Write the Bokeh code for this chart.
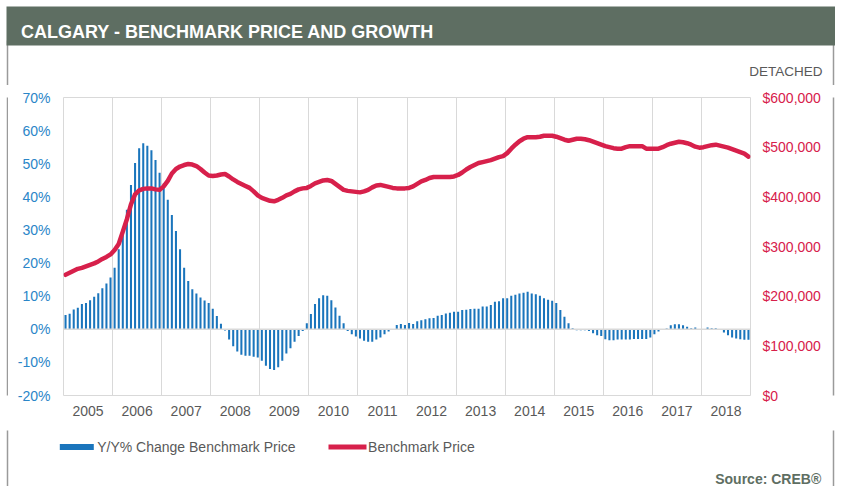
import numpy as np
from bokeh.plotting import figure
from bokeh.models import (Range1d, LinearAxis, FixedTicker, Span, PrintfTickFormatter,
                          NumeralTickFormatter, ColumnDataSource)
from bokeh.layouts import column, row
from bokeh.core.properties import value
from bokeh.embed import file_html
from bokeh.resources import INLINE

# ---------------- data ----------------
years = [str(y) for y in range(2005, 2019)]

# Y/Y % change of benchmark price, monthly Jan 2005 - Dec 2018
yoy_change = [
    4.3, 4.7, 6.0, 6.5, 7.6, 7.9, 8.8, 9.8, 10.9, 12.4, 13.8, 15.6,          # 2005
    18.6, 24.2, 29.2, 36.1, 43.6, 50.2, 54.7, 56.2, 55.4, 54.1, 51.1, 47.3,  # 2006
    44.0, 39.1, 34.5, 29.7, 24.2, 18.6, 14.6, 12.1, 10.8, 9.6, 8.7, 7.9,     # 2007
    6.2, 4.0, 1.7, -0.4, -3.1, -5.1, -6.7, -7.7, -8.0, -8.0, -8.3, -8.5,     # 2008
    -9.5, -11.0, -12.0, -12.3, -11.5, -9.5, -7.3, -5.7, -3.8, -2.0, -0.5, 1.8,  # 2009
    4.6, 7.6, 9.4, 10.3, 10.1, 8.8, 6.6, 4.1, 1.8, -0.5, -1.5, -2.2,        # 2010
    -2.8, -3.5, -3.8, -3.8, -3.1, -2.5, -1.5, -0.7, -0.2, 1.3, 1.6, 1.3,    # 2011
    1.9, 1.6, 2.4, 2.7, 3.0, 3.3, 3.4, 4.1, 4.3, 4.8, 5.0, 5.3,             # 2012
    5.3, 5.8, 5.9, 6.1, 6.2, 6.2, 6.9, 6.9, 7.3, 8.3, 8.5, 9.4,             # 2013
    9.4, 10.1, 10.4, 10.8, 11.0, 11.3, 10.8, 10.6, 10.1, 9.4, 8.9, 8.6,     # 2014
    7.9, 5.8, 3.8, 1.8, 0.3, -0.3, -0.3, -0.3, -0.5, -1.2, -1.8, -2.0,      # 2015
    -3.0, -3.3, -3.3, -3.1, -3.1, -3.1, -3.1, -2.9, -2.9, -2.9, -2.9, -2.5,  # 2016
    -1.5, -0.7, -0.2, 0.2, 1.2, 1.5, 1.5, 1.2, 0.8, 0.3, 0.5, -0.1,         # 2017
    -0.2, 0.5, 0.3, 0.3, -0.1, -1.0, -1.8, -2.5, -2.8, -3.0, -3.2, -3.2,    # 2018
]

# Benchmark price (thousands of $), monthly Jan 2005 - Dec 2018
benchmark_price_k = [
    243, 247, 251, 255, 257, 260, 263, 266, 270, 275, 279, 284,   # 2005
    293, 305, 330, 355, 385, 405, 413, 416, 417, 417, 415, 414,   # 2006
    421, 432, 447, 456, 461, 464, 466, 465, 462, 456, 449, 443,   # 2007
    442, 443, 445, 446, 441, 435, 430, 426, 422, 418, 411, 403,   # 2008
    398, 395, 392, 391, 394, 398, 403, 406, 411, 415, 417, 418,   # 2009
    422, 427, 430, 433, 434, 432, 426, 420, 414, 412, 411, 410,   # 2010
    409, 411, 414, 419, 423, 424, 422, 420, 418, 417, 417, 417,   # 2011
    418, 421, 426, 431, 434, 438, 440, 440, 440, 440, 440, 441,   # 2012
    444, 449, 455, 460, 464, 468, 470, 472, 474, 477, 480, 482,   # 2013
    488, 497, 505, 512, 517, 520, 520, 520, 521, 523, 523, 523,   # 2014
    521, 518, 515, 513, 515, 517, 517, 516, 514, 511, 508, 505,   # 2015
    502, 500, 498, 497, 497, 500, 502, 502, 502, 502, 497, 497,   # 2016
    497, 497, 500, 504, 507, 509, 511, 510, 508, 505, 501, 499,   # 2017
    500, 502, 504, 505, 503, 501, 499, 496, 493, 490, 487, 481,   # 2018
]

pct_ticks = list(range(-20, 80, 10))
price_ticks = list(range(0, 700000, 100000))

title_text = "CALGARY - BENCHMARK PRICE AND GROWTH"
subtitle_text = "DETACHED"
legend_labels = ["Y/Y% Change Benchmark Price", "Benchmark Price"]
source_text = "Source: CREB®"

# ---------------- styling ----------------
FONT = "Liberation Sans"
BLUE = "#1a75bc"
BLUE_TXT = "#2a86c8"
RED = "#d7204b"
GREY_TXT = "#595959"
GRID = "#d9d9d9"
HEADER = "#5e6e62"
BORDER = "#9a9a9a"

PAGE_W = 843
HDR_H = 85          # header strip: page y 0..85
MAIN_H = 345        # chart strip: page y 85..430
FTR_H = 486 - HDR_H - MAIN_H
LSTRIP_W = 8
RSTRIP_W = 12
MAIN_W = PAGE_W - LSTRIP_W - RSTRIP_W


def deco_fig(w, h, y0):
    """A blank figure whose frame covers the canvas; y grows downward (page pixels)."""
    f = figure(width=w, height=h, output_backend="svg", toolbar_location=None,
               x_axis_type=None, y_axis_type=None,
               x_range=Range1d(0, w), y_range=Range1d(y0 + h, y0),
               min_border=0)
    f.min_border_left = f.min_border_right = f.min_border_top = f.min_border_bottom = 0
    f.outline_line_color = None
    f.background_fill_color = "white"
    f.border_fill_color = "white"
    return f


def txt(f, x, y, s, size="14px", color=GREY_TXT, bold=False, align="left", baseline="middle"):
    f.text(x=[x], y=[y], text=[s], text_font=value(FONT), text_font_size=size,
           text_color=color, text_font_style="bold" if bold else "normal",
           text_align=align, text_baseline=baseline)


def vborder(f, xs, y0, y1):
    f.segment(x0=xs, y0=[y0 - 5] * len(xs), x1=xs, y1=[y1 + 5] * len(xs),
              line_color=BORDER, line_width=1.5)


# ---------------- header ----------------
hdr = deco_fig(PAGE_W, HDR_H, 0)
vborder(hdr, [7, 833], 45, HDR_H)
hdr.quad(left=[6], right=[834.5], top=[6], bottom=[45], fill_color=HEADER, line_color=None)
txt(hdr, 20.5, 31.5, title_text, size="18px", color="white", bold=True, baseline="alphabetic")
txt(hdr, 822, 71, subtitle_text, size="13.5px", align="right")

# ---------------- main chart ----------------
n = len(yoy_change)
month_x = np.arange(n) + 0.5
src = ColumnDataSource(dict(x=month_x, yoy=yoy_change,
                            price=np.array(benchmark_price_k) * 1000.0))

ML, MT = 55, 12
FW, FH = 687, 298
p = figure(width=MAIN_W, height=MAIN_H, output_backend="svg", toolbar_location=None,
           x_range=Range1d(0, n), y_range=Range1d(-20, 70))
p.min_border_left = ML
p.min_border_right = MAIN_W - ML - FW
p.min_border_top = MT
p.min_border_bottom = MAIN_H - MT - FH
p.background_fill_color = "white"
p.border_fill_color = "white"
p.outline_line_color = GRID
p.outline_line_width = 1
p.extra_y_ranges = {"price": Range1d(0, 600000)}

p.ygrid.visible = False
p.xgrid.ticker = FixedTicker(ticks=list(range(0, n + 1, 12)))
p.xgrid.grid_line_color = GRID
p.xgrid.grid_line_width = 1


def style_axis(ax, color, standoff):
    ax.axis_line_color = None
    ax.major_tick_line_color = None
    ax.minor_tick_line_color = None
    ax.major_tick_out = 0
    ax.major_tick_in = 0
    ax.minor_tick_out = 0
    ax.minor_tick_in = 0
    ax.major_label_text_font = FONT
    ax.major_label_text_font_size = "14px"
    ax.major_label_text_color = color
    ax.major_label_standoff = standoff


xa = p.xaxis[0]
xa.ticker = FixedTicker(ticks=[6 + 12 * i for i in range(len(years))])
xa.major_label_overrides = {6 + 12 * i: years[i] for i in range(len(years))}
style_axis(xa, GREY_TXT, 10)

ya = p.yaxis[0]
ya.ticker = FixedTicker(ticks=pct_ticks)
ya.formatter = PrintfTickFormatter(format="%d%%")
style_axis(ya, BLUE_TXT, 13)

ra = LinearAxis(y_range_name="price", ticker=FixedTicker(ticks=price_ticks),
                formatter=NumeralTickFormatter(format="$0,0"))
style_axis(ra, RED, 12)
p.add_layout(ra, "right")

p.vbar(x="x", top="yoy", bottom=0, width=0.5, source=src,
       fill_color=BLUE, line_color=None)
p.add_layout(Span(location=0, dimension="width", line_color=GRID, line_width=1.5))
p.line(x="x", y="price", source=src, y_range_name="price",
       line_color=RED, line_width=4.5, line_join="round", line_cap="round")

# side strips with the outer border lines
lstrip = deco_fig(LSTRIP_W, MAIN_H, HDR_H)
vborder(lstrip, [7], HDR_H, HDR_H + MAIN_H)
rstrip = deco_fig(RSTRIP_W, MAIN_H, HDR_H)
vborder(rstrip, [2], HDR_H, HDR_H + MAIN_H)

# ---------------- footer (legend + source) ----------------
Y0 = HDR_H + MAIN_H
ftr = deco_fig(PAGE_W, FTR_H, Y0)
vborder(ftr, [7, 833], Y0, Y0 + FTR_H)
ftr.quad(left=[59.3], right=[93.3], top=[443.5], bottom=[449.5], fill_color=BLUE, line_color=None)
txt(ftr, 96.7, 446.7, legend_labels[0])
ftr.quad(left=[328], right=[366], top=[444], bottom=[449], fill_color=RED, line_color=None)
txt(ftr, 367.6, 446.7, legend_labels[1])
txt(ftr, 820.7, 478.3, source_text, color=HEADER, bold=True, align="right", baseline="alphabetic")

layout = column(hdr, row(lstrip, p, rstrip, spacing=0), ftr, spacing=0)
open("out.html", "w").write(file_html(layout, INLINE))
